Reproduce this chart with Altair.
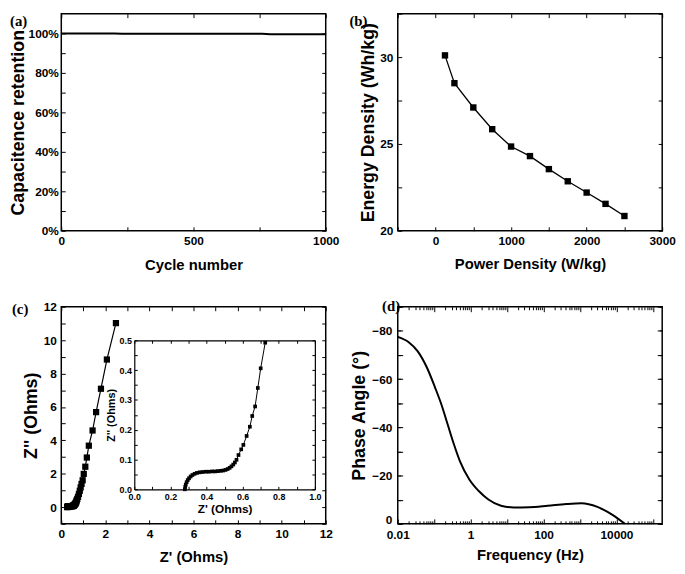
import altair as alt
import pandas as pd

W, H = 268, 220
SANS = "Liberation Sans"
SERIF = "Liberation Serif"

# ---------------- data ----------------
# (a) cycling stability
cycle_number = [0, 200, 230, 760, 790, 1000]
capacitance_retention = [100.0, 100.0, 99.8, 99.8, 99.6, 99.6]

# (b) Ragone plot
power_density = [125, 250, 500, 750, 1000, 1250, 1500, 1750, 2000, 2250, 2500]
energy_density = [30.1, 28.5, 27.1, 25.85, 24.85, 24.3, 23.55, 22.85, 22.2, 21.55, 20.85]

# (c) Nyquist plot: low-impedance part (also shown in the inset)
inset_z_real = [0.280, 0.282, 0.285, 0.290, 0.296, 0.303, 0.312, 0.322, 0.334, 0.347,
                0.362, 0.378, 0.395, 0.412, 0.430, 0.447, 0.463, 0.478, 0.492, 0.505,
                0.517, 0.528, 0.538, 0.548, 0.557, 0.566, 0.577, 0.592, 0.604, 0.622,
                0.640, 0.653, 0.669, 0.684, 0.700, 0.725]
inset_z_imag = [0.000, 0.008, 0.016, 0.024, 0.031, 0.037, 0.043, 0.048, 0.052, 0.055,
                0.057, 0.058, 0.059, 0.059, 0.060, 0.060, 0.061, 0.062, 0.063, 0.065,
                0.068, 0.072, 0.077, 0.083, 0.090, 0.099, 0.115, 0.134, 0.149, 0.179,
                0.210, 0.246, 0.278, 0.340, 0.406, 0.492]
# upper part of the Nyquist plot (main panel only)
upper_z_real = [0.76, 0.80, 0.84, 0.88, 0.92, 0.97, 1.02, 1.09, 1.16, 1.25, 1.42, 1.58, 1.80, 2.07, 2.48]
upper_z_imag = [0.62, 0.79, 0.98, 1.18, 1.39, 1.61, 1.99, 2.42, 2.97, 3.68, 4.59, 5.69, 7.09, 8.84, 11.02]

# (d) Bode phase plot
frequency_hz = [0.01, 0.02, 0.035, 0.063, 0.105, 0.155, 0.23, 0.34, 0.51, 0.92, 1.67, 3.0,
                6.8, 15, 40, 130, 420, 1100, 3000, 8000, 17000]
phase_angle = [-77.5, -75.3, -71.6, -64.8, -56.6, -49.8, -41.6, -33.4, -25.9, -18.4, -13.6, -10.2,
               -7.5, -6.8, -6.9, -7.5, -8.2, -8.5, -7.0, -3.6, 0.0]

# axis tick values
a_x_labels = [0, 500, 1000]
a_x_ticks = [0, 250, 500, 750, 1000]
a_y_labels = [0, 20, 40, 60, 80, 100]
a_y_ticks = [0, 10, 20, 30, 40, 50, 60, 70, 80, 90, 100]

b_x_labels = [0, 1000, 2000, 3000]
b_x_ticks = [-500, 0, 500, 1000, 1500, 2000, 2500, 3000]
b_y_labels = [20, 25, 30]
b_y_ticks = [20, 22.5, 25, 27.5, 30, 32.5]

c_labels = [0, 2, 4, 6, 8, 10, 12]
c_x_ticks = list(range(0, 13))
c_y_ticks = list(range(-1, 13))
inset_x_labels = [0.0, 0.2, 0.4, 0.6, 0.8, 1.0]
inset_x_ticks = [0.0, 0.1, 0.2, 0.3, 0.4, 0.5, 0.6, 0.7, 0.8, 0.9, 1.0]
inset_y_labels = [0.0, 0.1, 0.2, 0.3, 0.4, 0.5]
inset_y_ticks = [0.0, 0.05, 0.1, 0.15, 0.2, 0.25, 0.3, 0.35, 0.4, 0.45, 0.5]

d_x_labels = [0.01, 1, 100, 10000]
d_x_decades = [0.01, 0.1, 1, 10, 100, 1000, 10000, 100000]
d_x_minor = [round(m * d, 6) for d in [0.01, 0.1, 1, 10, 100, 1000, 10000, 100000] for m in range(2, 10)]
d_x_minor = [v for v in d_x_minor if v <= 180000]
d_y_labels = [-80, -60, -40, -20, 0]
d_y_ticks = [-90, -80, -70, -60, -50, -40, -30, -20, -10, 0]

df_a = pd.DataFrame({"cycle": cycle_number, "ret": capacitance_retention})
df_b = pd.DataFrame({"p": power_density, "e": energy_density})
df_c = pd.DataFrame({"zr": inset_z_real + upper_z_real, "zi": inset_z_imag + upper_z_imag})
df_ci = pd.DataFrame({"zr": inset_z_real, "zi": inset_z_imag})
df_d = pd.DataFrame({"f": frequency_hz, "ph": phase_angle})


def tick_axis(orient, offset, values, size=4, domain=False):
    return alt.Axis(orient=orient, offset=offset, values=values, labels=False, ticks=True,
                    tickSize=size, tickWidth=1, domain=domain, domainWidth=1.2, grid=False, title="")


def inward_ticks(df, xf, yf, xs, ys, xticks, yticks, x0=0, x1=W, y0=0, y1=H, size=4, domain=False):
    inv = alt.Chart(df).mark_point(opacity=0)
    low = inv.encode(
        x=alt.X(xf, type="quantitative", scale=xs, axis=tick_axis("top", -y1, xticks, size, domain)),
        y=alt.Y(yf, type="quantitative", scale=ys, axis=tick_axis("right", x0 - W, yticks, size, domain)),
    )
    high = inv.encode(
        x=alt.X(xf, type="quantitative", scale=xs, axis=tick_axis("bottom", y0 - H, xticks, size, domain)),
        y=alt.Y(yf, type="quantitative", scale=ys, axis=tick_axis("left", -x1, yticks, size, domain)),
    )
    return [low, high]


def label_axis(orient, values, title, lab_pad=5, title_pad=4, title_size=15, **kw):
    return alt.Axis(orient=orient, values=values, title=title, ticks=False, tickSize=0, domain=False,
                    grid=False, labelPadding=lab_pad, titlePadding=title_pad, titleFontSize=title_size,
                    labelFlush=False, labelOverlap=False, **kw)


def panel_title(text, dx, dy):
    return alt.TitleParams(text=text, anchor="start", frame="group", offset=0, dx=dx, dy=dy,
                           baseline="top", font=SERIF, fontSize=15, fontWeight="bold", color="black")


YT = 18  # y-axis title size

# ---------------- (a) ----------------
xs_a = alt.Scale(domain=[0, 1000])
ys_a = alt.Scale(domain=[0, 110])
a_main = alt.Chart(df_a).mark_line(color="black", strokeWidth=2).encode(
    x=alt.X("cycle:Q", scale=xs_a, axis=label_axis("bottom", a_x_labels, "Cycle number", 5, 11, format="d")),
    y=alt.Y("ret:Q", scale=ys_a, axis=label_axis("left", a_y_labels, "Capacitence retention", 3, 1, YT,
                                                  labelExpr="datum.value + '%'")),
)
pa = alt.layer(a_main, *inward_ticks(df_a, "cycle", "ret", xs_a, ys_a, a_x_ticks, a_y_ticks)).resolve_axis(
    x="independent", y="independent").properties(width=W, height=H, title=panel_title("(a)", -52, 16))

# ---------------- (b) ----------------
xs_b = alt.Scale(domain=[-500, 3000])
ys_b = alt.Scale(domain=[20, 32.5])
b_main = alt.Chart(df_b).mark_line(
    color="black", strokeWidth=1.3,
    point=alt.OverlayMarkDef(shape="square", size=42, filled=True, color="black", opacity=1),
).encode(
    x=alt.X("p:Q", scale=xs_b, axis=label_axis("bottom", b_x_labels, "Power Density (W/kg)", 5, 10, format="d")),
    y=alt.Y("e:Q", scale=ys_b, axis=label_axis("left", b_y_labels, "Energy Density (Wh/kg)", 5, 2, YT)),
)
pb = alt.layer(b_main, *inward_ticks(df_b, "p", "e", xs_b, ys_b, b_x_ticks, b_y_ticks)).resolve_axis(
    x="independent", y="independent").properties(width=W, height=H, title=panel_title("(b)", -49, 16))

# ---------------- (c) ----------------
xs_c = alt.Scale(domain=[0, 12])
ys_c = alt.Scale(domain=[-1, 12])
c_main = alt.Chart(df_c).mark_line(
    color="black", strokeWidth=1.2,
    point=alt.OverlayMarkDef(shape="square", size=40, filled=True, color="black", opacity=1),
).encode(
    x=alt.X("zr:Q", scale=xs_c, axis=label_axis("bottom", c_labels, "Z' (Ohms)", 5, 10)),
    y=alt.Y("zi:Q", scale=ys_c, axis=label_axis("left", c_labels, "Z'' (Ohms)", 5, 3, YT)),
)
# inset placement inside panel (c), in pixels of the panel
IX0, IX1, IY0, IY1 = 74, 257, 34, 185
xs_i = alt.Scale(domain=[0, 1], range=[IX0, IX1])
ys_i = alt.Scale(domain=[0, 0.5], range=[IY1, IY0])
inset_main = alt.Chart(df_ci).mark_line(
    color="black", strokeWidth=1,
    point=alt.OverlayMarkDef(shape="square", size=14, filled=True, color="black", opacity=1),
).encode(
    x=alt.X("zr:Q", scale=xs_i, axis=alt.Axis(
        orient="bottom", offset=IY1 - H, values=inset_x_labels, format=".1f", title="Z' (Ohms)",
        ticks=False, tickSize=0, domain=False, grid=False, labelPadding=3, titlePadding=3,
        labelFontSize=9, titleFontSize=12, labelFlush=False, labelOverlap=False)),
    y=alt.Y("zi:Q", scale=ys_i, axis=alt.Axis(
        orient="left", offset=-IX0, values=inset_y_labels, format=".1f", title="Z'' (Ohms)",
        ticks=False, tickSize=0, domain=False, grid=False, labelPadding=3, titlePadding=3,
        labelFontSize=9, titleFontSize=11, labelFlush=False, labelOverlap=False)),
)
pc = alt.layer(
    c_main,
    *inward_ticks(df_c, "zr", "zi", xs_c, ys_c, c_x_ticks, c_y_ticks),
    inset_main,
    *inward_ticks(df_ci, "zr", "zi", xs_i, ys_i, inset_x_ticks, inset_y_ticks,
                  x0=IX0, x1=IX1, y0=IY0, y1=IY1, size=3, domain=True),
).resolve_scale(x="independent", y="independent").resolve_axis(
    x="independent", y="independent").properties(width=W, height=H, title=panel_title("(c)", -50, 16))

# ---------------- (d) ----------------
xs_d = alt.Scale(type="log", domain=[0.01, 180000])
ys_d = alt.Scale(domain=[-90, 0], reverse=True)
d_main = alt.Chart(df_d).mark_line(color="black", strokeWidth=2, interpolate="monotone").encode(
    x=alt.X("f:Q", scale=xs_d, axis=label_axis("bottom", d_x_labels, "Frequency (Hz)", 6, 7, format="~g")),
    y=alt.Y("ph:Q", scale=ys_d, axis=label_axis(
        "left", d_y_labels, "Phase Angle (°)", 6, 3, YT,
        labelBaseline={"condition": {"test": "datum.value === 0", "value": "alphabetic"}, "value": "middle"})),
)
pd_ = alt.layer(
    d_main,
    *inward_ticks(df_d, "f", "ph", xs_d, ys_d, d_x_decades, d_y_ticks, size=5),
    *inward_ticks(df_d, "f", "ph", xs_d, ys_d, d_x_minor, d_y_ticks, size=3),
).resolve_axis(x="independent", y="independent").properties(
    width=W, height=H, title=panel_title("(d)", -16, 8))

chart = alt.concat(pa, pb, pc, pd_, columns=2, spacing={"row": 77, "column": 73}, bounds="flush").properties(
    padding=0
).configure(
    font=SANS,
).configure_axis(
    labelFont=SANS, labelFontSize=12, labelFontWeight="bold", labelColor="black",
    titleFont=SANS, titleFontWeight="bold", titleColor="black",
    tickColor="black", domainColor="black",
).configure_view(
    stroke="black", strokeWidth=1.5,
)

chart.save("out.html", embed_options={"renderer": "svg", "actions": False})
